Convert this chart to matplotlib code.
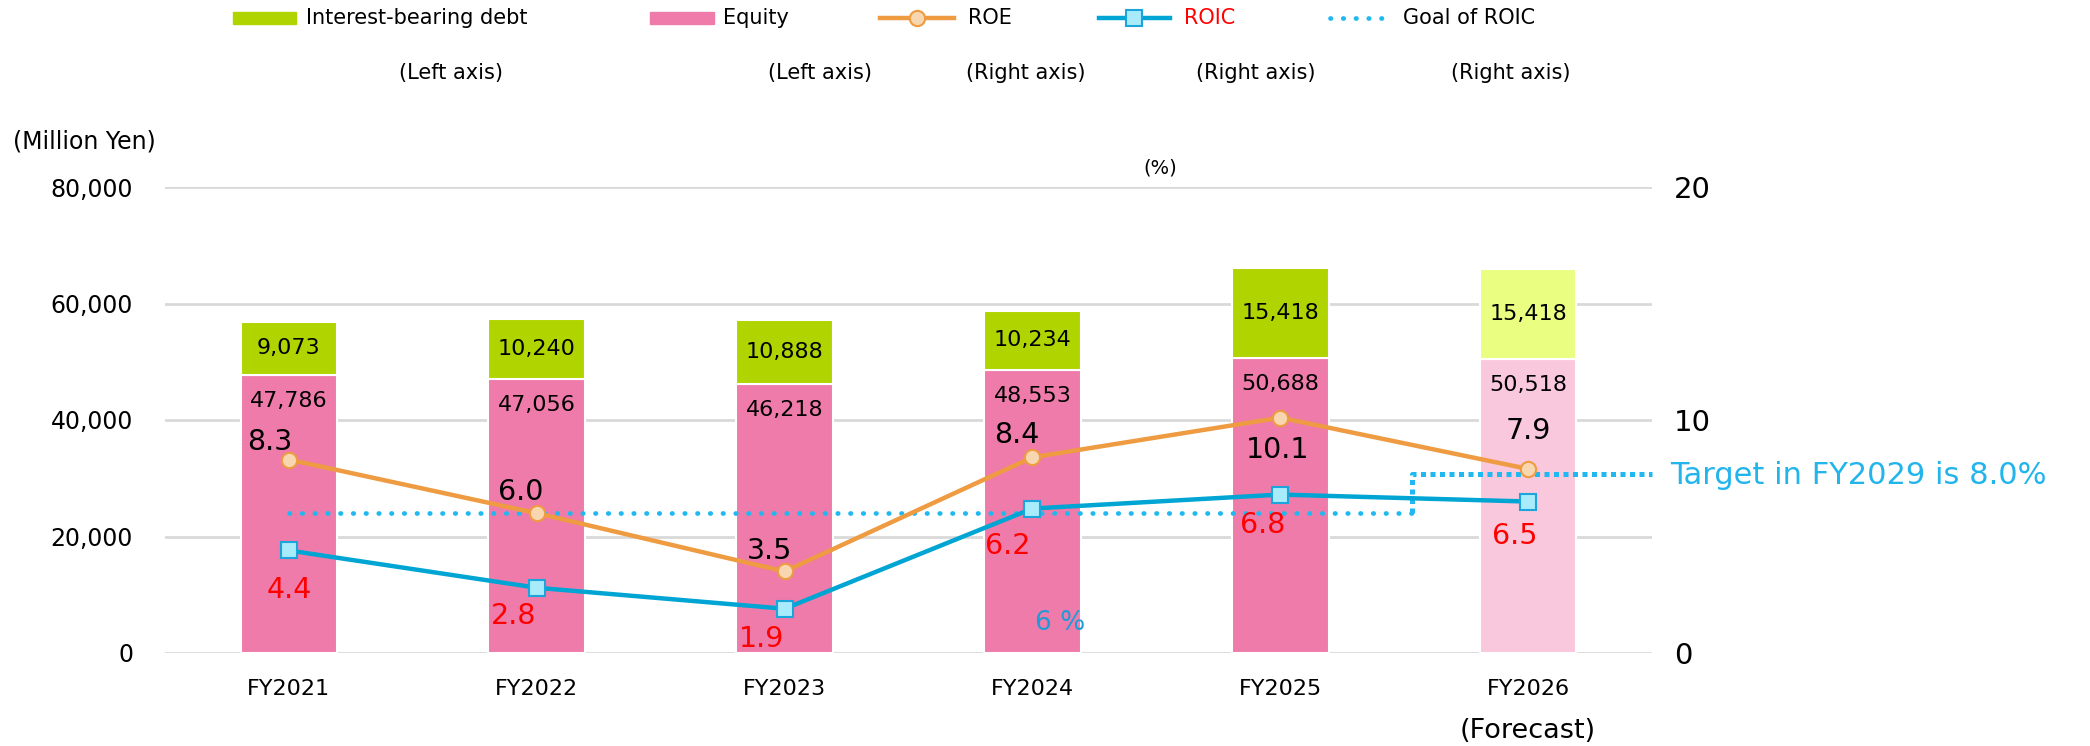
import matplotlib
matplotlib.use("Agg")
import matplotlib.pyplot as plt
from matplotlib.lines import Line2D
from matplotlib.patches import Rectangle

# data
years = ["FY2021", "FY2022", "FY2023", "FY2024", "FY2025", "FY2026"]
equity = [47786, 47056, 46218, 48553, 50688, 50518]
debt = [9073, 10240, 10888, 10234, 15418, 15418]
roe = [8.3, 6.0, 3.5, 8.4, 10.1, 7.9]
roic = [4.4, 2.8, 1.9, 6.2, 6.8, 6.5]
goal_now = 6.0
goal_2029 = 7.7     # where the target line sits in the picture
goal_step = 4.53    # x position (category units) where the goal steps up

W, H = 2090, 746
DEBT_C, DEBT_FC = "#B0D400", "#EAFE82"
EQ_C, EQ_FC = "#EF7BAA", "#F9C8DC"
ROE_C, ROE_FACE = "#EE9B42", "#F8D6B0"
ROIC_C, ROIC_FACE = "#00A5D3", "#A8ECFC"
GOAL_C = "#1FB8F0"


def fx(px):
    return px / W


def fy(py):
    return 1 - py / H


fig = plt.figure(figsize=(W / 100, H / 100), dpi=100)
ax = fig.add_axes([fx(165), fy(653), (1652 - 165) / W, (653 - 187) / H])
x = list(range(len(years)))

eq_cols = [EQ_C] * 5 + [EQ_FC]
debt_cols = [DEBT_C] * 5 + [DEBT_FC]
ax.bar(x, equity, width=0.39, color=eq_cols, edgecolor="white", linewidth=1.5, zorder=2)
ax.bar(x, debt, bottom=equity, width=0.39, color=debt_cols, edgecolor="white",
       linewidth=1.5, zorder=2)

for i in x:
    ax.annotate(f"{equity[i]:,}", (i, equity[i]), xytext=(0, -26), textcoords="offset pixels",
                ha="center", va="center", fontsize=16, zorder=5)
    ax.annotate(f"{debt[i]:,}", (i, equity[i] + debt[i] / 2), ha="center", va="center",
                fontsize=16, zorder=5)

ax.set_xlim(-0.5, 5.5)
ax.set_ylim(0, 80000)
ax.set_yticks([0, 20000, 40000, 60000, 80000])
ax.set_yticklabels(["0", "20,000", "40,000", "60,000", "80,000"])
ax.yaxis.grid(True, color="#D9D9D9", linewidth=2)
ax.set_axisbelow(True)
ax.set_xticks(x)
ax.set_xticklabels(years)
ax.tick_params(axis="x", length=0, pad=19, labelsize=16)
ax.tick_params(axis="y", length=0, pad=23, labelsize=17)
for s in ax.spines.values():
    s.set_visible(False)

ax2 = ax.twinx()
ax2.set_ylim(0, 20)
ax2.set_yticks([0, 10, 20])
ax2.tick_params(axis="y", length=0, pad=16, labelsize=21)
for s in ax2.spines.values():
    s.set_visible(False)

# goal of ROIC: round dots up to the step, square dots after it
ax2.plot([0, goal_step], [goal_now, goal_now], color=GOAL_C, lw=3.4,
         linestyle=(0, (0.1, 2.6)), dash_capstyle="round", zorder=3)
ax2.plot([goal_step, goal_step, 5.5], [goal_now, goal_2029, goal_2029], color=GOAL_C, lw=3.6,
         linestyle=(0, (1, 0.9)), dash_capstyle="butt", clip_on=False, zorder=3)

ax2.plot(x, roe, color=ROE_C, lw=3.2, marker="o", ms=11, mfc=ROE_FACE, mec=ROE_C,
         mew=1.5, zorder=4)
ax2.plot(x, roic, color=ROIC_C, lw=3.2, marker="s", ms=11, mfc=ROIC_FACE, mec="#1CA5DA",
         mew=1.5, zorder=4)

roe_off = [(-19, 18), (-16, 21), (-15, 20), (-16, 22), (-3, -32), (0, 38)]
roic_off = [(0, -40), (-23, -28), (-23, -30), (-25, -37), (-18, -30), (-13, -34)]
for i in x:
    ax2.annotate(f"{roe[i]:.1f}", (i, roe[i]), xytext=roe_off[i], textcoords="offset pixels",
                 ha="center", va="center", fontsize=20.5, color="black", zorder=6)
    ax2.annotate(f"{roic[i]:.1f}", (i, roic[i]), xytext=roic_off[i], textcoords="offset pixels",
                 ha="center", va="center", fontsize=20.5, color="#FF0000", zorder=6)

ax2.text(3.11, 1.28, "6 %", ha="center", va="center", fontsize=19, color="#1E9BD7")

fig.text(fx(1670), fy(476), "Target in FY2029 is 8.0%", ha="left", va="center",
         fontsize=22, color="#22B5EC")

# axis unit captions
fig.text(fx(13), fy(141), "(Million Yen)", ha="left", va="center", fontsize=17)
fig.text(fx(1160), fy(168), "(%)", ha="center", va="center", fontsize=14)
fig.text(fx(1528), fy(731), "(Forecast)", ha="center", va="center", fontsize=19.5)

# legend drawn by hand, laid out like the original
ly, ly2 = 18, 73
fig.add_artist(Rectangle((fx(233), fy(ly + 6)), fx(296) - fx(233), 12 / H,
                         color=DEBT_C, transform=fig.transFigure))
fig.text(fx(306), fy(ly), "Interest-bearing debt", va="center", fontsize=15)
fig.add_artist(Rectangle((fx(650), fy(ly + 6)), fx(714) - fx(650), 12 / H,
                         color=EQ_C, transform=fig.transFigure))
fig.text(fx(723), fy(ly), "Equity", va="center", fontsize=15)
fig.add_artist(Line2D([fx(880), fx(954)], [fy(ly), fy(ly)], color=ROE_C, lw=3.2,
                      transform=fig.transFigure))
fig.add_artist(Line2D([fx(917)], [fy(ly)], marker="o", ms=11, mfc=ROE_FACE, mec=ROE_C,
                      mew=1.5, transform=fig.transFigure))
fig.text(fx(968), fy(ly), "ROE", va="center", fontsize=15)
fig.add_artist(Line2D([fx(1099), fx(1170)], [fy(ly), fy(ly)], color=ROIC_C, lw=3.2,
                      transform=fig.transFigure))
fig.add_artist(Line2D([fx(1134)], [fy(ly)], marker="s", ms=11, mfc=ROIC_FACE, mec="#1CA5DA",
                      mew=1.5, transform=fig.transFigure))
fig.text(fx(1184), fy(ly), "ROIC", va="center", fontsize=15, color="#FF0000")
fig.add_artist(Line2D([fx(1330), fx(1393)], [fy(ly), fy(ly)], color=GOAL_C, lw=3.4,
                      linestyle=(0, (0.1, 2.6)), dash_capstyle="round",
                      transform=fig.transFigure))
fig.text(fx(1403), fy(ly), "Goal of ROIC", va="center", fontsize=15)

for cx, t in [(451, "(Left axis)"), (820, "(Left axis)"), (1026, "(Right axis)"),
              (1256, "(Right axis)"), (1511, "(Right axis)")]:
    fig.text(fx(cx), fy(ly2), t, ha="center", va="center", fontsize=15)

fig.savefig("out.png", dpi=100)
